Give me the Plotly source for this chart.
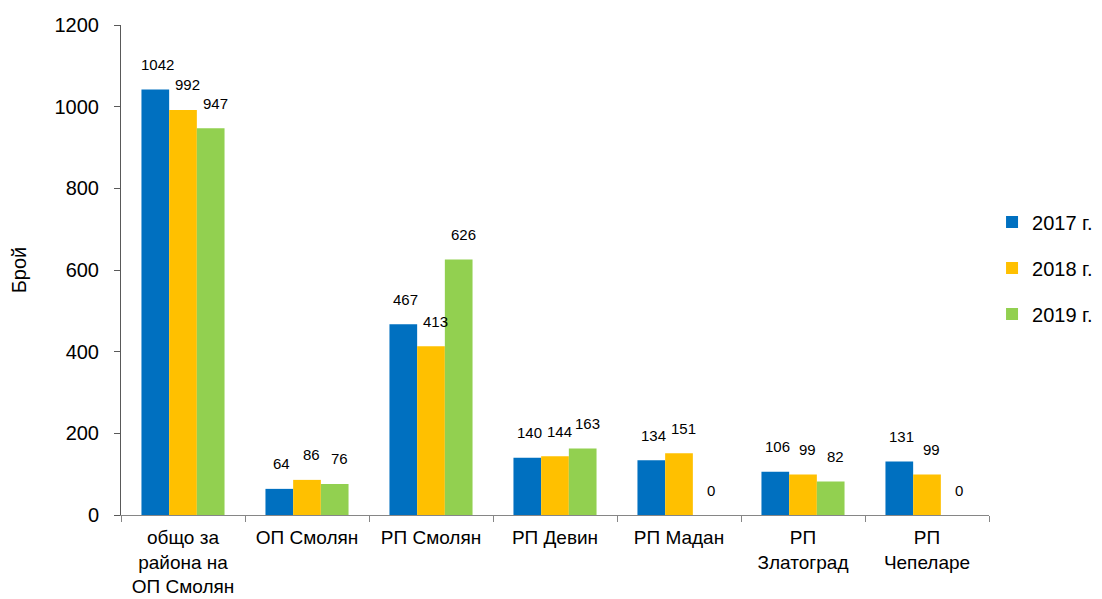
import plotly.graph_objects as go

categories = ["общо за<br>района на<br>ОП Смолян", "ОП Смолян", "РП Смолян", "РП Девин",
              "РП Мадан", "РП<br>Златоград", "РП<br>Чепеларе"]
years = ["2017 г.", "2018 г.", "2019 г."]
v2017 = [1042, 64, 467, 140, 134, 106, 131]
v2018 = [992, 86, 413, 144, 151, 99, 99]
v2019 = [947, 76, 626, 163, 0, 82, 0]

colors = ["#0070C0", "#FFC000", "#92D050"]
font = "Liberation Sans, Arial, sans-serif"

fig = go.Figure()
annotations = []
# label offsets per series (pixels) to mimic the Excel placement
xshifts = [-26, 4, 32]
for i, (name, vals) in enumerate(zip(years, [v2017, v2018, v2019])):
    fig.add_trace(go.Bar(name=name, x=categories, y=vals, marker_color=colors[i],
                         marker_line_width=0, legendgroup=name, hoverinfo="x+y+name"))
    for c, v in zip(categories, vals):
        annotations.append(dict(x=c, y=v, xref="x", yref="y", text=str(v), showarrow=False,
                                xshift=xshifts[i], yshift=25,
                                font=dict(size=15, color="#000000", family=font)))

fig.update_layout(
    width=1102, height=599,
    margin=dict(l=113, r=121, t=17, b=92),
    plot_bgcolor="white", paper_bgcolor="white",
    barmode="group", bargap=0.33, bargroupgap=0,
    font=dict(family=font, size=20, color="#000000"),
    legend=dict(x=1.0035, y=0.504, xanchor="left", yanchor="middle",
                font=dict(size=20), traceorder="grouped", tracegroupgap=17, itemwidth=30),
    annotations=annotations,
    showlegend=True,
)
fig.update_xaxes(showline=True, linecolor="#868686", linewidth=1, ticks="outside",
                 tickson="boundaries", ticklen=6, tickcolor="#868686",
                 tickfont=dict(size=19), ticklabelstandoff=5, showgrid=False, automargin=False)
fig.update_yaxes(range=[0, 1200], dtick=200, showline=True, linecolor="#595959", linewidth=1,
                 ticks="outside", ticklen=6, tickcolor="#595959", showgrid=False,
                 tickfont=dict(size=20), ticklabelstandoff=11, automargin=False,
                 title=dict(text="Брой", font=dict(size=20), standoff=38))

fig.write_html("out.html")
